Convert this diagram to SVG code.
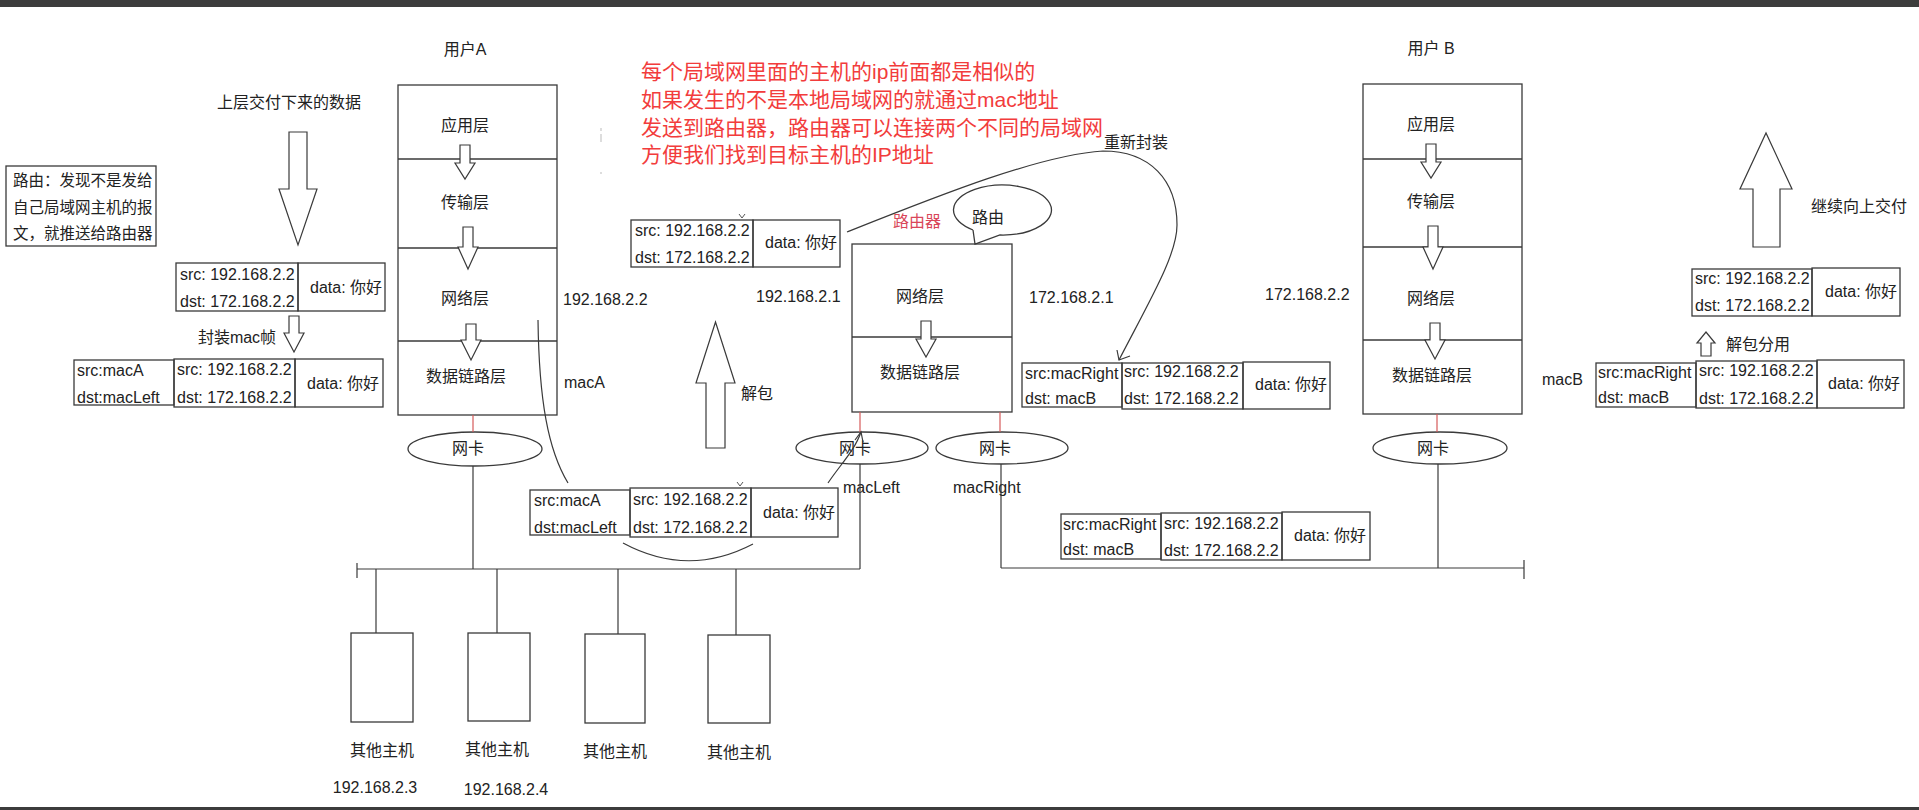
<svg xmlns="http://www.w3.org/2000/svg" width="1919" height="810" viewBox="0 0 1919 810">
<defs>
<style>
.bx{fill:none;stroke:#3a3a3a;stroke-width:1.3}
.ln{fill:none;stroke:#3a3a3a;stroke-width:1.2}
.rl{fill:none;stroke:#d65a5a;stroke-width:1.2}
.ar{fill:#fff;stroke:#3a3a3a;stroke-width:1.2}
.t{font-family:"Liberation Sans","Noto Sans CJK SC",sans-serif;font-size:16px;fill:#222;dominant-baseline:central}
.c{text-anchor:middle}
.red{font-family:"Liberation Sans","Noto Sans CJK SC",sans-serif;font-size:21px;fill:#f23c3c;dominant-baseline:central}
</style>
</defs>
<rect x="0" y="0" width="1919" height="810" fill="#fff"/>
<rect x="0" y="0" width="1919" height="7" fill="#3c3c3c"/>
<rect x="0" y="807" width="1919" height="3" fill="#3c3c3c"/>

<!-- red note -->
<g id="note-red">
<text class="red" x="641" y="71">每个局域网里面的主机的ip前面都是相似的</text>
<text class="red" x="641" y="99">如果发生的不是本地局域网的就通过mac地址</text>
<text class="red" x="641" y="127">发送到路由器，路由器可以连接两个不同的局域网</text>
<text class="red" x="641" y="154">方便我们找到目标主机的IP地址</text>
</g>
<g id="artifacts" stroke="#bbb" stroke-width="1">
<line x1="601" y1="128" x2="601" y2="131"/><line x1="601" y1="134" x2="601" y2="142"/><line x1="601" y1="172" x2="601" y2="174"/>
<path d="M739,214 L742,218 L745,214" fill="none" stroke="#555"/>
<path d="M737,482 L740,486 L743,482" fill="none" stroke="#555"/>
</g>

<!-- User A -->
<g id="userA">
<text class="t c" x="465" y="49">用户A</text>
<rect class="bx" x="398" y="85" width="159" height="330"/>
<line class="bx" x1="398" y1="159" x2="557" y2="159"/>
<line class="bx" x1="398" y1="248" x2="557" y2="248"/>
<line class="bx" x1="398" y1="341" x2="557" y2="341"/>
<text class="t c" x="465" y="125">应用层</text>
<text class="t c" x="465" y="202">传输层</text>
<text class="t c" x="465" y="298">网络层</text>
<text class="t c" x="466" y="376">数据链路层</text>
<path class="ar" d="M460,145 V163 H455 L465,179 L475,163 H470 V145 Z"/>
<path class="ar" d="M463,227 V247 H458 L468,269 L478,247 H473 V227 Z"/>
<path class="ar" d="M466,324 V340 H461 L471,360 L481,340 H476 V324 Z"/>
<text class="t" x="563" y="299">192.168.2.2</text>
<text class="t" x="564" y="382">macA</text>
</g>

<!-- left side -->
<g id="upper-data">
<text class="t c" x="289" y="102">上层交付下来的数据</text>
<path class="ar" d="M289,132 V189 H279 L298,245 L317,189 H307 V132 Z"/>
</g>
<g id="note-route">
<rect class="bx" x="6" y="166" width="150" height="80"/>
<text class="t" x="13" y="180" style="font-size:15.5px">路由：发现不是发给</text>
<text class="t" x="13" y="207" style="font-size:15.5px">自己局域网主机的报</text>
<text class="t" x="13" y="233" style="font-size:15.5px">文，就推送给路由器</text>
</g>
<g id="packet-ip-A">
<rect class="bx" x="176" y="263" width="122" height="48"/>
<rect class="bx" x="298" y="263" width="87" height="48"/>
<text class="t" x="180" y="274">src: 192.168.2.2</text>
<text class="t" x="180" y="301">dst: 172.168.2.2</text>
<text class="t" x="310" y="287">data: 你好</text>
</g>
<g id="encap">
<text class="t c" x="237" y="337">封装mac帧</text>
<path class="ar" d="M289,316 V333 H284 L294,352 L304,333 H299 V316 Z"/>
</g>
<g id="frame-A">
<rect class="bx" x="74" y="360" width="100" height="45"/>
<rect class="bx" x="174" y="359" width="121" height="48"/>
<rect class="bx" x="295" y="359" width="88" height="48"/>
<text class="t" x="77" y="370">src:macA</text>
<text class="t" x="77" y="397">dst:macLeft</text>
<text class="t" x="177" y="369">src: 192.168.2.2</text>
<text class="t" x="177" y="397">dst: 172.168.2.2</text>
<text class="t" x="307" y="383">data: 你好</text>
</g>

<!-- router -->
<g id="router">
<text class="t c" x="917" y="221" style="fill:#d9475a">路由器</text>
<rect class="bx" x="852" y="244" width="160" height="168"/>
<line class="bx" x1="852" y1="337" x2="1012" y2="337"/>
<text class="t c" x="920" y="296">网络层</text>
<text class="t c" x="920" y="372">数据链路层</text>
<path class="ar" d="M921,321 V339 H916 L926,357 L936,339 H931 V321 Z"/>
<text class="t" x="756" y="296">192.168.2.1</text>
<text class="t" x="1029" y="297">172.168.2.1</text>
</g>
<g id="bubble">
<path class="bx" d="M973,230 L975,244 L1000,235 A49,25 0 1 0 973,230"/>
<text class="t c" x="988" y="217">路由</text>
</g>
<g id="packet-ip-router">
<rect class="bx" x="631" y="220" width="122" height="47"/>
<rect class="bx" x="753" y="220" width="87" height="47"/>
<text class="t" x="635" y="230">src: 192.168.2.2</text>
<text class="t" x="635" y="257">dst: 172.168.2.2</text>
<text class="t" x="765" y="242">data: 你好</text>
</g>
<g id="unpack">
<path class="ar" d="M706,448 V383 H696 L715.5,322 L735,383 H725 V448 Z"/>
<text class="t" x="741" y="393">解包</text>
</g>
<g id="frame-router-out">
<rect class="bx" x="1022" y="363" width="100" height="44"/>
<rect class="bx" x="1122" y="363" width="121" height="46"/>
<rect class="bx" x="1243" y="362" width="87" height="47"/>
<text class="t" x="1025" y="373">src:macRight</text>
<text class="t" x="1025" y="398">dst: macB</text>
<text class="t" x="1124" y="371">src: 192.168.2.2</text>
<text class="t" x="1124" y="398">dst: 172.168.2.2</text>
<text class="t" x="1255" y="384">data: 你好</text>
</g>

<!-- User B -->
<g id="userB">
<text class="t c" x="1431" y="48">用户 B</text>
<rect class="bx" x="1363" y="84" width="159" height="330"/>
<line class="bx" x1="1363" y1="159" x2="1522" y2="159"/>
<line class="bx" x1="1363" y1="247" x2="1522" y2="247"/>
<line class="bx" x1="1363" y1="340" x2="1522" y2="340"/>
<text class="t c" x="1431" y="124">应用层</text>
<text class="t c" x="1431" y="201">传输层</text>
<text class="t c" x="1431" y="298">网络层</text>
<text class="t c" x="1432" y="375">数据链路层</text>
<path class="ar" d="M1426,144 V162 H1421 L1431,178 L1441,162 H1436 V144 Z"/>
<path class="ar" d="M1428,226 V247 H1423 L1433,269 L1443,247 H1438 V226 Z"/>
<path class="ar" d="M1430,323 V340 H1425 L1435,359 L1445,340 H1440 V323 Z"/>
<text class="t" x="1265" y="294">172.168.2.2</text>
<text class="t" x="1542" y="379">macB</text>
</g>
<g id="deliver-up">
<path class="ar" d="M1753,247 V189 H1740 L1766,133 L1792,189 H1780 V247 Z"/>
<text class="t" x="1811" y="206">继续向上交付</text>
</g>
<g id="packet-ip-B">
<rect class="bx" x="1692" y="269" width="120" height="47"/>
<rect class="bx" x="1812" y="268" width="88" height="48"/>
<text class="t" x="1695" y="278">src: 192.168.2.2</text>
<text class="t" x="1695" y="305">dst: 172.168.2.2</text>
<text class="t" x="1825" y="291">data: 你好</text>
</g>
<g id="demux">
<path class="ar" d="M1701,356 V343 H1697 L1706,332 L1715,343 H1711 V356 Z"/>
<text class="t" x="1726" y="344">解包分用</text>
</g>
<g id="frame-B">
<rect class="bx" x="1596" y="363" width="100" height="44"/>
<rect class="bx" x="1696" y="361" width="121" height="47"/>
<rect class="bx" x="1817" y="360" width="87" height="48"/>
<text class="t" x="1598" y="372">src:macRight</text>
<text class="t" x="1598" y="397">dst: macB</text>
<text class="t" x="1699" y="370">src: 192.168.2.2</text>
<text class="t" x="1699" y="398">dst: 172.168.2.2</text>
<text class="t" x="1828" y="383">data: 你好</text>
</g>

<!-- NICs -->
<g id="nic-A">
<ellipse class="bx" cx="475" cy="449" rx="67" ry="17"/>
<text class="t c" x="468" y="448">网卡</text>
</g>
<g id="nic-router-left">
<ellipse class="bx" cx="862" cy="448" rx="66" ry="16"/>
<text class="t c" x="855" y="448">网卡</text>
<text class="t" x="843" y="487">macLeft</text>
</g>
<g id="nic-router-right">
<ellipse class="bx" cx="1002" cy="448" rx="66" ry="16"/>
<text class="t c" x="995" y="448">网卡</text>
<text class="t" x="953" y="487">macRight</text>
</g>
<g id="nic-B">
<ellipse class="bx" cx="1440" cy="448" rx="67" ry="16"/>
<text class="t c" x="1433" y="448">网卡</text>
</g>

<!-- frames on wire -->
<g id="frame-wire-left">
<rect class="bx" x="530" y="490" width="100" height="45"/>
<rect class="bx" x="630" y="488" width="121" height="49"/>
<rect class="bx" x="751" y="488" width="87" height="49"/>
<text class="t" x="534" y="500">src:macA</text>
<text class="t" x="534" y="527">dst:macLeft</text>
<text class="t" x="633" y="499">src: 192.168.2.2</text>
<text class="t" x="633" y="527">dst: 172.168.2.2</text>
<text class="t" x="763" y="512">data: 你好</text>
</g>
<g id="frame-wire-right">
<rect class="bx" x="1061" y="514" width="100" height="45"/>
<rect class="bx" x="1161" y="513" width="121" height="47"/>
<rect class="bx" x="1282" y="512" width="88" height="48"/>
<text class="t" x="1063" y="524">src:macRight</text>
<text class="t" x="1063" y="549">dst: macB</text>
<text class="t" x="1164" y="523">src: 192.168.2.2</text>
<text class="t" x="1164" y="550">dst: 172.168.2.2</text>
<text class="t" x="1294" y="535">data: 你好</text>
</g>

<!-- hosts -->
<g id="host1"><rect class="bx" x="351" y="633" width="62" height="89"/><text class="t c" x="382" y="750">其他主机</text><text class="t c" x="375" y="787">192.168.2.3</text></g>
<g id="host2"><rect class="bx" x="468" y="633" width="62" height="88"/><text class="t c" x="497" y="749">其他主机</text><text class="t c" x="506" y="789">192.168.2.4</text></g>
<g id="host3"><rect class="bx" x="585" y="634" width="60" height="89"/><text class="t c" x="615" y="751">其他主机</text></g>
<g id="host4"><rect class="bx" x="708" y="635" width="62" height="88"/><text class="t c" x="739" y="752">其他主机</text></g>

<!-- connectors -->
<g id="connectors">
<line class="rl" x1="473" y1="415" x2="473" y2="432"/>
<line class="rl" x1="860" y1="412" x2="860" y2="432"/>
<line class="rl" x1="1000" y1="412" x2="1000" y2="432"/>
<line class="rl" x1="1437" y1="414" x2="1437" y2="432"/>
<line class="ln" x1="473" y1="466" x2="473" y2="569"/>
<line class="ln" x1="860" y1="464" x2="860" y2="569"/>
<line class="ln" x1="1001" y1="464" x2="1001" y2="568"/>
<line class="ln" x1="1438" y1="464" x2="1438" y2="568"/>
<line class="ln" x1="357" y1="569" x2="860" y2="569"/>
<line class="ln" x1="357" y1="563" x2="357" y2="578"/>
<line class="ln" x1="1001" y1="568" x2="1524" y2="568"/>
<line class="ln" x1="1524" y1="560" x2="1524" y2="579"/>
<line class="ln" x1="376" y1="569" x2="376" y2="633"/>
<line class="ln" x1="497" y1="569" x2="497" y2="633"/>
<line class="ln" x1="618" y1="569" x2="618" y2="634"/>
<line class="ln" x1="736" y1="569" x2="736" y2="635"/>
<path class="ln" d="M538,320 C539,400 548,450 568,483"/>
<path class="ln" d="M623,543 Q688,578 753,544"/>
<path class="ln" d="M828,483 C840,465 855,450 861,432"/>
<path class="ln" d="M855,440 L861,432 L863,442"/>
<path class="ln" d="M847,232 C940,195 1040,155 1103,151 C1150,151 1177,180 1177,225 C1177,255 1150,300 1119,360"/>
<path class="ln" d="M1117,350 L1119,360 L1130,356"/>
<text class="t" x="1104" y="142">重新封装</text>
</g>
</svg>
